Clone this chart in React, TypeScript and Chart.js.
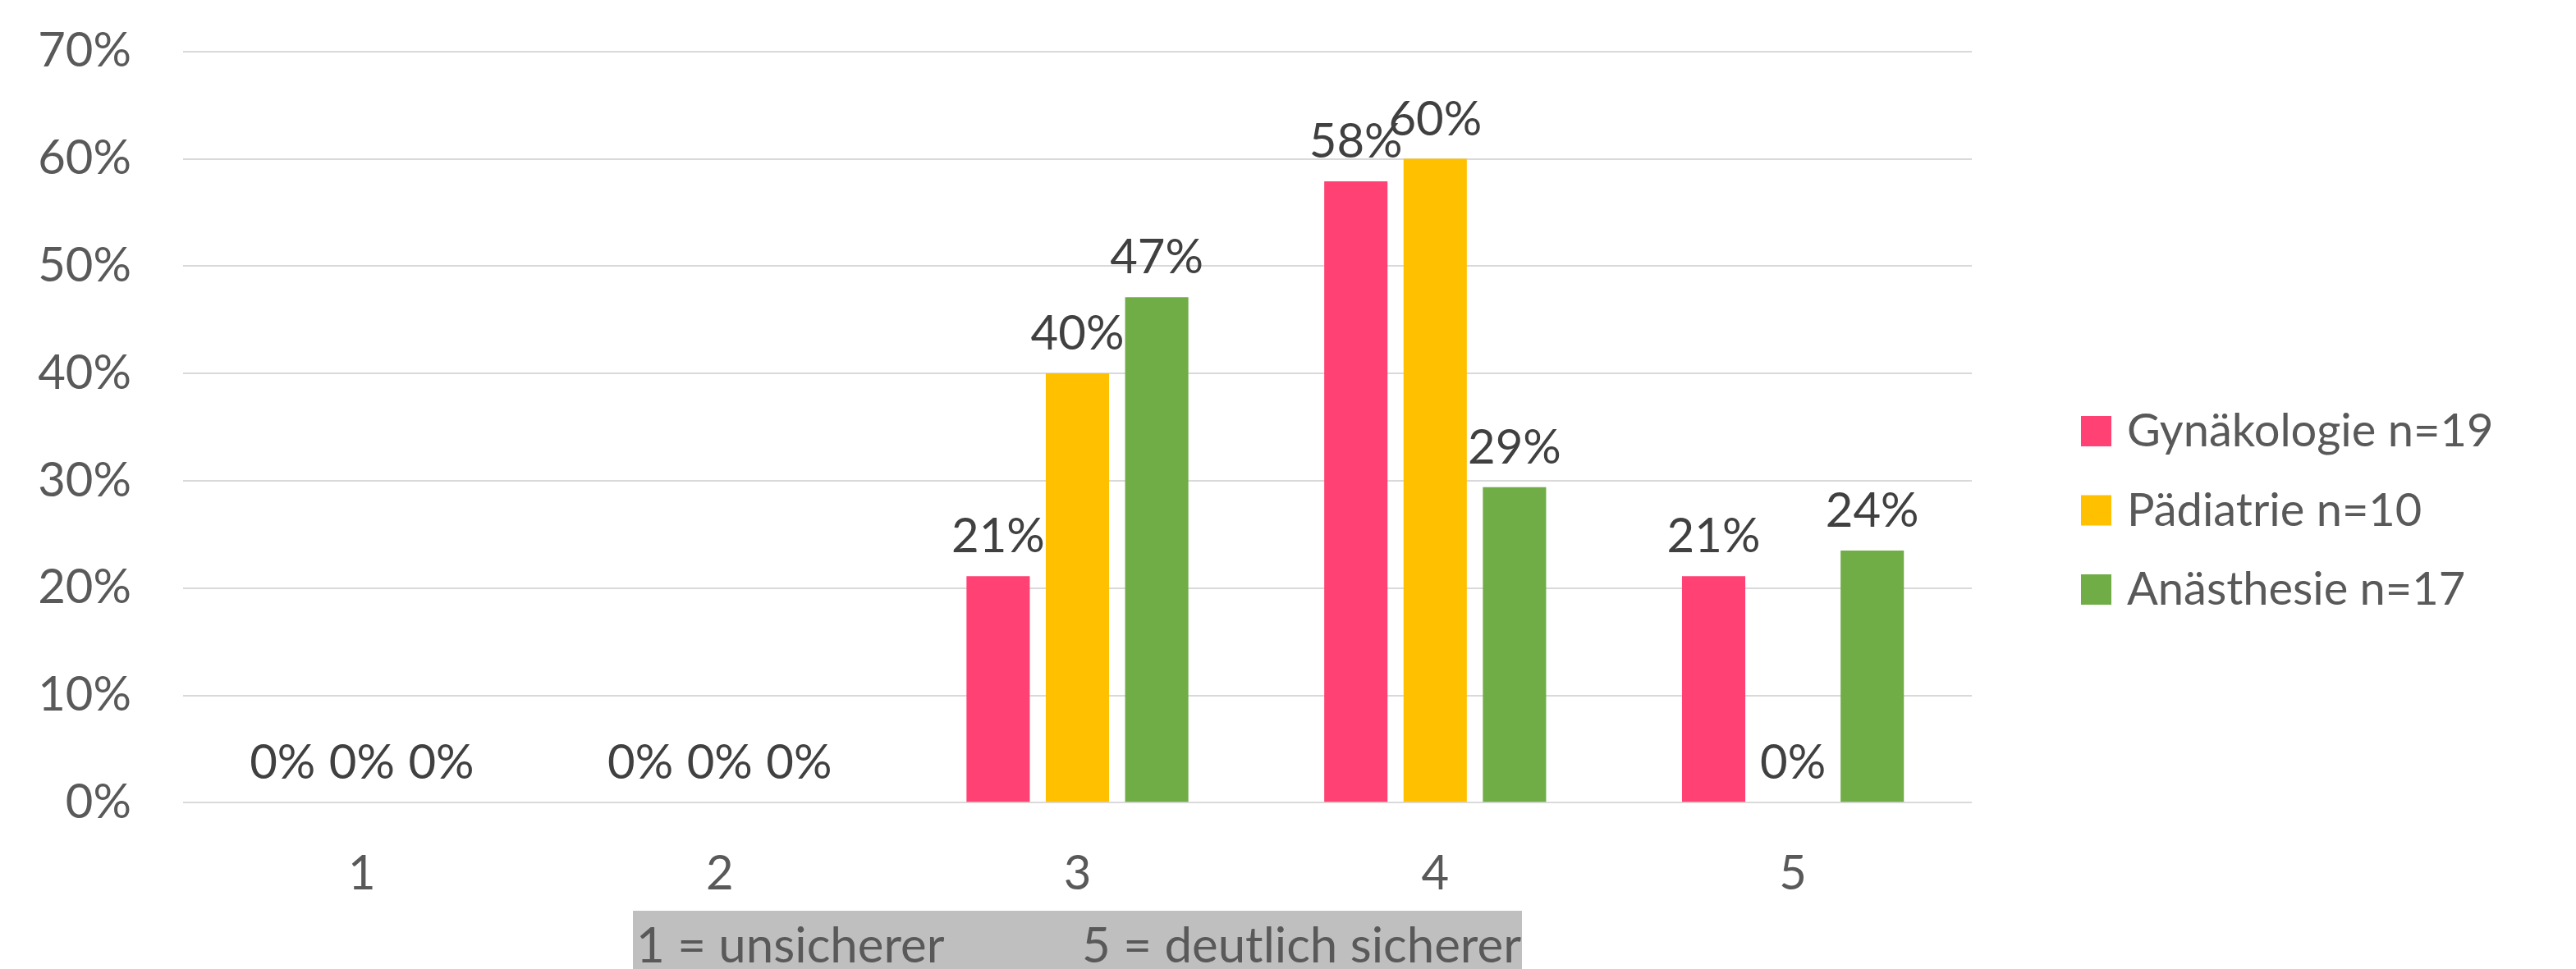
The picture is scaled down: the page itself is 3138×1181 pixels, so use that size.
import React, { useEffect, useRef } from 'react';
import { Chart, registerables } from 'chart.js';

Chart.register(...registerables);

// ---- data ----
const categories = ['1', '2', '3', '4', '5'];
const seriesNames = ['Gynäkologie n=19', 'Pädiatrie n=10', 'Anästhesie n=17'];
const gynValues = [0, 0, 21.1, 57.9, 21.1];
const padValues = [0, 0, 40, 60, 0];
const anaValues = [0, 0, 47.1, 29.4, 23.5];
const seriesColors = ['#FF4174', '#FFC000', '#70AD47'];
const yMax = 70;
const yStep = 10;
const scaleNoteLeft = '1 = unsicherer';
const scaleNoteRight = '5 = deutlich sicherer';

const FONT = 'Lato, "Open Sans", sans-serif';
const W = 3138;
const H = 1181;
const PLOT_TOP = 62.7;

const overlayPlugin = {
  id: 'overlay',
  afterDatasetsDraw(chart: any) {
    const ctx = chart.ctx;
    ctx.save();
    // data labels
    ctx.font = `58px ${FONT}`;
    ctx.fillStyle = '#404040';
    ctx.textAlign = 'center';
    ctx.textBaseline = 'alphabetic';
    chart.data.datasets.forEach((ds: any, di: number) => {
      const meta = chart.getDatasetMeta(di);
      meta.data.forEach((el: any, i: number) => {
        const v = ds.data[i];
        ctx.fillText(Math.round(v) + '%', el.x, el.y - 29);
      });
    });
    ctx.restore();
  },
  afterDraw(chart: any) {
    const ctx = chart.ctx;
    const area = chart.chartArea;
    ctx.save();
    // legend
    const boxX = 2535;
    const boxSize = 37;
    const firstBottom = 544;
    const rowGap = 96.5;
    ctx.font = `56px ${FONT}`;
    ctx.textAlign = 'left';
    ctx.textBaseline = 'alphabetic';
    seriesNames.forEach((name, i) => {
      const bottom = firstBottom + i * rowGap;
      ctx.fillStyle = seriesColors[i];
      ctx.fillRect(boxX, bottom - boxSize, boxSize, boxSize);
      ctx.fillStyle = '#595959';
      ctx.fillText(name, boxX + 56, bottom);
    });
    // scale note box
    const cx = (area.left + area.right) / 2;
    const half = 541.5;
    const top = 1110;
    ctx.fillStyle = '#BFBFBF';
    ctx.fillRect(cx - half, top, half * 2, H - top);
    ctx.fillStyle = '#595959';
    ctx.font = `60px ${FONT}`;
    ctx.textAlign = 'left';
    ctx.fillText(scaleNoteLeft, cx - half + 4, 1173);
    ctx.textAlign = 'right';
    ctx.fillText(scaleNoteRight, cx + half - 1, 1173);
    ctx.restore();
  },
};

export default function App() {
  const canvasRef = useRef<HTMLCanvasElement | null>(null);

  useEffect(() => {
    let chart: Chart | null = null;
    let cancelled = false;
    const make = () => {
      if (cancelled || !canvasRef.current) return;
      chart = new Chart(canvasRef.current, {
        type: 'bar',
        data: {
          labels: categories,
          datasets: [
            { label: seriesNames[0], data: gynValues, backgroundColor: seriesColors[0] },
            { label: seriesNames[1], data: padValues, backgroundColor: seriesColors[1] },
            { label: seriesNames[2], data: anaValues, backgroundColor: seriesColors[2] },
          ],
        },
        options: {
          responsive: false,
          animation: false,
          devicePixelRatio: 1,
          layout: { padding: { left: 0, right: W - 2402, top: PLOT_TOP, bottom: 0 } },
          datasets: {
            bar: { categoryPercentage: 0.665, barPercentage: 0.798 },
          },
          plugins: {
            legend: { display: false },
            tooltip: { enabled: false },
          },
          scales: {
            x: {
              grid: { display: false, drawTicks: false },
              border: { display: false },
              ticks: {
                color: '#595959',
                font: { family: FONT, size: 58 },
                padding: 52,
              },
              afterFit: (s: any) => {
                s.height = H - 978.3;
                s.paddingLeft = 0;
                s.paddingRight = 0;
              },
            },
            y: {
              min: 0,
              max: yMax,
              grid: { color: '#D9D9D9', lineWidth: 2, drawTicks: false },
              border: { display: false },
              ticks: {
                stepSize: yStep,
                color: '#595959',
                font: { family: FONT, size: 58 },
                padding: 63,
                callback: (v: any) => v + '%',
              },
              afterFit: (s: any) => {
                s.width = 223;
                s.paddingTop = 0;
                s.paddingBottom = 0;
              },
            },
          },
        },
        plugins: [overlayPlugin],
      });
    };
    const fontsApi: any = (document as any).fonts;
    if (fontsApi && fontsApi.load) {
      fontsApi.load(`58px Lato`).then(make, make);
    } else {
      make();
    }
    return () => {
      cancelled = true;
      if (chart) chart.destroy();
    };
  }, []);

  return (
    <div style={{ position: 'absolute', left: 0, top: 0, width: W, height: H, background: '#fff' }}>
      <canvas ref={canvasRef} width={W} height={H} style={{ width: W, height: H, display: 'block' }} />
    </div>
  );
}
